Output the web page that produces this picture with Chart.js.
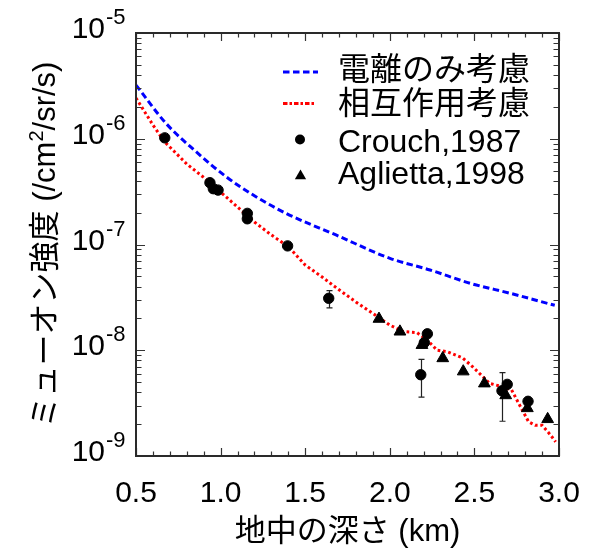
<!DOCTYPE html>
<html><head><meta charset="utf-8">
<script src="https://cdn.jsdelivr.net/npm/chart.js@4.4.0/dist/chart.umd.min.js"></script>
<style>html,body{margin:0;padding:0;background:#fff;}#wrap{width:594px;height:549px;}</style>
</head><body><div id="wrap"><canvas id="c" width="594" height="549"></canvas></div>
<script>
// ---- data ----
const seriesNames = ['電離のみ考慮', '相互作用考慮', 'Crouch,1987', 'Aglietta,1998'];

const ionDepth = [0.50, 0.677, 0.855, 1.032, 1.209, 1.387, 1.682, 2.001, 2.238, 2.474, 2.710, 2.975];
const ionFlux  = [3.22e-6, 1.40e-6, 7.55e-7, 4.38e-7, 2.83e-7, 1.97e-7, 1.23e-7, 7.40e-8, 5.74e-8, 4.30e-8, 3.46e-8, 2.66e-8];

const intDepth = [0.50, 0.60, 0.67, 0.70, 0.80, 0.90, 0.94, 1.00, 1.10, 1.16, 1.20, 1.30, 1.40, 1.50, 1.60, 1.65, 1.70, 1.80, 1.90, 2.00, 2.08, 2.16, 2.22, 2.28, 2.34, 2.43, 2.49, 2.59, 2.65, 2.72, 2.77, 2.82, 2.86, 2.90, 2.95, 2.98];
const intFlux  = [2.43e-6, 1.35e-6, 9.31e-7, 8.35e-7, 5.77e-7, 4.31e-7, 3.82e-7, 3.13e-7, 2.26e-7, 1.86e-7, 1.63e-7, 1.23e-7, 9.58e-8, 6.40e-8, 4.93e-8, 4.28e-8, 3.73e-8, 2.86e-8, 2.23e-8, 1.73e-8, 1.50e-8, 1.47e-8, 1.25e-8, 1.00e-8, 9.68e-9, 8.45e-9, 6.98e-9, 4.86e-9, 4.59e-9, 4.21e-9, 2.97e-9, 2.11e-9, 1.95e-9, 1.95e-9, 1.58e-9, 1.36e-9];

const crouchDepth   = [0.670, 0.937, 0.957, 0.985, 1.158, 1.158, 1.396, 1.639, 2.183, 2.204, 2.222, 2.663, 2.694, 2.817];
const crouchFlux    = [1.02e-6, 3.84e-7, 3.37e-7, 3.27e-7, 1.97e-7, 1.75e-7, 9.7e-8, 3.1e-8, 5.87e-9, 1.18e-8, 1.43e-8, 4.14e-9, 4.76e-9, 3.29e-9];
const crouchErrLow  = [null, null, null, null, null, null, null, 2.52e-8, 3.61e-9, null, null, 2.13e-9, null, null];
const crouchErrHigh = [null, null, null, null, null, null, null, 3.66e-8, 8.2e-9, null, null, 6.14e-9, null, null];

const agliettaDepth = [1.936, 2.060, 2.190, 2.313, 2.434, 2.559, 2.685, 2.813, 2.933];
const agliettaFlux  = [1.98e-8, 1.50e-8, 1.12e-8, 8.4e-9, 6.3e-9, 4.85e-9, 3.75e-9, 2.83e-9, 2.23e-9];

const xTickValues = [0.5, 1.0, 1.5, 2.0, 2.5, 3.0];
const xTickLabels = ['0.5', '1.0', '1.5', '2.0', '2.5', '3.0'];
const yTickValues = [1e-9, 1e-8, 1e-7, 1e-6, 1e-5];
const yTickExps   = ['-9', '-8', '-7', '-6', '-5'];
const xTitle = '地中の深さ (km)';
const yTitleParts = ['ミューオン強度 (/cm', '2', '/sr/s)'];

// ---- chart ----
const FONT = '"Liberation Sans", Arial, "Noto Sans CJK JP", sans-serif';
const pts = (xs, ys) => xs.map((x, i) => ({x: x, y: ys[i]}));

const decorPlugin = {
  id: 'decor',
  beforeDatasetsDraw(chart) {
    const ctx = chart.ctx, xs = chart.scales.x, ys = chart.scales.y;
    ctx.save();
    ctx.strokeStyle = '#222';
    ctx.lineWidth = 1.2;
    crouchDepth.forEach((d, i) => {
      if (crouchErrLow[i] == null) return;
      const px = Math.round(xs.getPixelForValue(d)) + 0.5;
      const p1 = ys.getPixelForValue(crouchErrHigh[i]);
      const p2 = ys.getPixelForValue(crouchErrLow[i]);
      ctx.beginPath();
      ctx.moveTo(px, p1); ctx.lineTo(px, p2);
      ctx.moveTo(px - 3, p1); ctx.lineTo(px + 3, p1);
      ctx.moveTo(px - 3, p2); ctx.lineTo(px + 3, p2);
      ctx.stroke();
    });
    ctx.restore();
  },
  afterDraw(chart) {
    const ctx = chart.ctx, xs = chart.scales.x, ys = chart.scales.y;
    const a = chart.chartArea;
    ctx.save();
    // ticks (inward, all four sides)
    ctx.strokeStyle = '#333';
    ctx.lineWidth = 1.2;
    ctx.beginPath();
    for (let k = 5; k <= 30; k++) {
      const v = k / 10;
      const px = Math.round(xs.getPixelForValue(v)) + 0.5;
      const len = (k % 5 === 0) ? 8 : 4.5;
      ctx.moveTo(px, a.bottom); ctx.lineTo(px, a.bottom - len);
      ctx.moveTo(px, a.top); ctx.lineTo(px, a.top + len);
    }
    for (let e = -9; e <= -5; e++) {
      for (let m = 1; m <= 9; m++) {
        if (e === -5 && m > 1) break;
        const v = m * Math.pow(10, e);
        const py = Math.round(ys.getPixelForValue(v)) + 0.5;
        const len = (m === 1) ? 9 : 5.5;
        ctx.moveTo(a.left, py); ctx.lineTo(a.left + len, py);
        ctx.moveTo(a.right, py); ctx.lineTo(a.right - len, py);
      }
    }
    ctx.stroke();
    // frame
    ctx.strokeStyle = '#2a2a2a';
    ctx.lineWidth = 2;
    ctx.strokeRect(a.left, a.top, a.right - a.left, a.bottom - a.top);

    // x tick labels
    ctx.fillStyle = '#000';
    ctx.font = '30px ' + FONT;
    ctx.textAlign = 'center';
    ctx.textBaseline = 'alphabetic';
    xTickValues.forEach((v, i) => {
      ctx.fillText(xTickLabels[i], xs.getPixelForValue(v), 502);
    });
    // y tick labels 10^n
    yTickValues.forEach((v, i) => {
      const py = ys.getPixelForValue(v);
      ctx.font = '30px ' + FONT;
      ctx.textAlign = 'right';
      ctx.fillText('10', 105, py + 5);
      ctx.font = '22px ' + FONT;
      ctx.textAlign = 'left';
      ctx.fillText(yTickExps[i], 106, py - 9);
    });
    // x title
    ctx.font = '31px ' + FONT;
    ctx.textAlign = 'center';
    ctx.fillText(xTitle, (a.left + a.right) / 2, 541);
    // y title (rotated, with superscript)
    ctx.save();
    ctx.translate(55, (a.top + a.bottom) / 2);
    ctx.rotate(-Math.PI / 2);
    const bigF = '31px ' + FONT, supF = '20px ' + FONT;
    ctx.font = bigF; const w1 = ctx.measureText(yTitleParts[0]).width;
    const w3 = ctx.measureText(yTitleParts[2]).width;
    ctx.font = supF; const w2 = ctx.measureText(yTitleParts[1]).width;
    let sx = -(w1 + w2 + w3) / 2;
    ctx.textAlign = 'left';
    ctx.font = bigF; ctx.fillText(yTitleParts[0], sx, 0); sx += w1;
    ctx.font = supF; ctx.fillText(yTitleParts[1], sx, -12); sx += w2;
    ctx.font = bigF; ctx.fillText(yTitleParts[2], sx, 0);
    ctx.restore();

    // legend
    ctx.font = '32px ' + FONT;
    ctx.textAlign = 'left';
    ctx.lineWidth = 3;
    ctx.strokeStyle = '#0000ff';
    ctx.setLineDash([6.5, 3.5]);
    ctx.beginPath(); ctx.moveTo(283, 72); ctx.lineTo(318, 72); ctx.stroke();
    ctx.strokeStyle = '#ff0000';
    ctx.setLineDash([4.5, 2, 2.5, 2]);
    ctx.beginPath(); ctx.moveTo(283, 103.5); ctx.lineTo(315, 103.5); ctx.stroke();
    ctx.setLineDash([]);
    ctx.fillStyle = '#000';
    ctx.beginPath(); ctx.arc(300, 139.5, 5, 0, Math.PI * 2); ctx.fill();
    const tr = 6.5, tcx = 300.5, tcy = 176;
    ctx.beginPath();
    ctx.moveTo(tcx, tcy - tr);
    ctx.lineTo(tcx + tr * Math.sin(2 * Math.PI / 3), tcy + tr * 0.5);
    ctx.lineTo(tcx - tr * Math.sin(2 * Math.PI / 3), tcy + tr * 0.5);
    ctx.closePath(); ctx.fill();
    ctx.fillText(seriesNames[0], 338, 79.5);
    ctx.fillText(seriesNames[1], 338, 113.5);
    ctx.fillText(seriesNames[2], 338, 151.7);
    ctx.fillText(seriesNames[3], 338, 184);
    ctx.restore();
  }
};

new Chart(document.getElementById('c'), {
  type: 'scatter',
  data: {
    datasets: [
      { label: seriesNames[0], data: pts(ionDepth, ionFlux), showLine: true, borderColor: '#0000ff', backgroundColor: '#0000ff',
        borderWidth: 3, borderDash: [6.5, 3.5], pointRadius: 0, cubicInterpolationMode: 'monotone', order: 3 },
      { label: seriesNames[1], data: pts(intDepth, intFlux), showLine: true, borderColor: '#ff0000', backgroundColor: '#ff0000',
        borderWidth: 3, borderDash: [2.7, 2.7], pointRadius: 0, tension: 0, order: 2 },
      { label: seriesNames[3], data: pts(agliettaDepth, agliettaFlux), pointStyle: 'triangle', pointRadius: 6.8,
        backgroundColor: '#000', borderColor: '#000', borderWidth: 1, order: 1 },
      { label: seriesNames[2], data: pts(crouchDepth, crouchFlux), pointStyle: 'circle', pointRadius: 5.2,
        backgroundColor: '#000', borderColor: '#000', borderWidth: 1, order: 0 }
    ]
  },
  options: {
    responsive: false, animation: false, devicePixelRatio: 1, events: [],
    layout: { padding: { left: 136, top: 33, right: 35, bottom: 93 } },
    scales: {
      x: { type: 'linear', min: 0.5, max: 3.0, display: false },
      y: { type: 'logarithmic', min: 1e-9, max: 1e-5, display: false }
    },
    plugins: { legend: { display: false }, tooltip: { enabled: false } }
  },
  plugins: [decorPlugin]
});
</script></body></html>
